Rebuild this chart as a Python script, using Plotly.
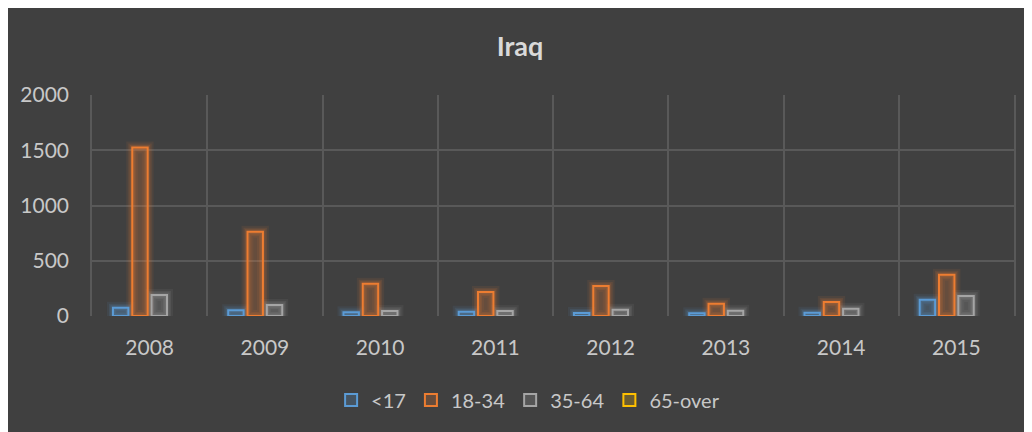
import plotly.graph_objects as go

years = ["2008", "2009", "2010", "2011", "2012", "2013", "2014", "2015"]
series_names = ["<17", "18-34", "35-64", "65-over"]
under17 = [75, 52, 33, 39, 27, 24, 30, 147]
age18_34 = [1525, 763, 292, 217, 271, 111, 127, 374]
age35_64 = [190, 100, 45, 45, 57, 48, 66, 181]
over65 = [0, 0, 0, 0, 0, 0, 0, 0]
y_ticks = [0, 500, 1000, 1500, 2000]

values = [under17, age18_34, age35_64, over65]
line_colors = ["#5B9BD5", "#ED7D31", "#A5A5A5", "#FFC000"]
fill_colors = ["rgba(91,155,213,0.22)", "rgba(237,125,49,0.22)",
               "rgba(165,165,165,0.22)", "rgba(255,192,0,0.22)"]
glow_colors = ["rgba(91,155,213,{a})", "rgba(237,125,49,{a})",
               "rgba(165,165,165,{a})", "rgba(255,192,0,{a})"]

BG = "#404040"
TXT = "#C8C8C8"
GRID = "#595959"
FONT = "Lato, 'Open Sans', sans-serif"


def drawable(vals):
    # zero-height bars are left undrawn (as in the original chart)
    return [v if v else None for v in vals]


fig = go.Figure()

# soft glow layers underneath
for i, (name, vals) in enumerate(zip(series_names, values)):
    for lw, a in [(12, 0.08), (8, 0.12), (5, 0.16)]:
        fig.add_trace(go.Bar(
            x=years, y=drawable(vals), name=name, offsetgroup=str(i),
            marker=dict(color="rgba(0,0,0,0)",
                        line=dict(color=glow_colors[i].format(a=a), width=lw)),
            showlegend=False, hoverinfo="skip",
        ))

for i, (name, vals) in enumerate(zip(series_names, values)):
    fig.add_trace(go.Bar(
        x=years, y=drawable(vals), name=name, offsetgroup=str(i),
        marker=dict(color=fill_colors[i], line=dict(color=line_colors[i], width=2)),
    ))

fig.update_layout(
    width=1024, height=424,
    paper_bgcolor=BG, plot_bgcolor=BG,
    margin=dict(l=84, r=18, t=87, b=116),
    barmode="group", bargap=0.33, bargroupgap=0.2,
    title=dict(text="<b>Iraq</b>", x=0.5, xanchor="center", y=0.91, yanchor="middle",
               font=dict(family=FONT, size=27, color="#D9D9D9")),
    font=dict(family=FONT, size=21, color=TXT),
    showlegend=True,
    legend=dict(orientation="h", x=0.473, xanchor="center", y=-0.38, yanchor="middle",
                font=dict(family=FONT, size=20, color=TXT), bgcolor="rgba(0,0,0,0)",
                traceorder="normal"),
)
fig.update_xaxes(
    type="category", tickson="boundaries", showgrid=True, gridcolor=GRID, gridwidth=1.5,
    ticks="", ticklabelstandoff=17,
    showline=False, zeroline=False, tickfont=dict(family=FONT, size=21, color=TXT),
)
fig.update_yaxes(
    range=[0, 2000], tickvals=y_ticks, showgrid=True, gridcolor=GRID, gridwidth=1.5,
    ticks="outside", ticklen=17, tickcolor="rgba(0,0,0,0)",
    showline=True, mirror=True, linecolor=GRID, linewidth=1.5,
    zeroline=False, tickfont=dict(family=FONT, size=21, color=TXT),
)

fig.write_html("out.html")
